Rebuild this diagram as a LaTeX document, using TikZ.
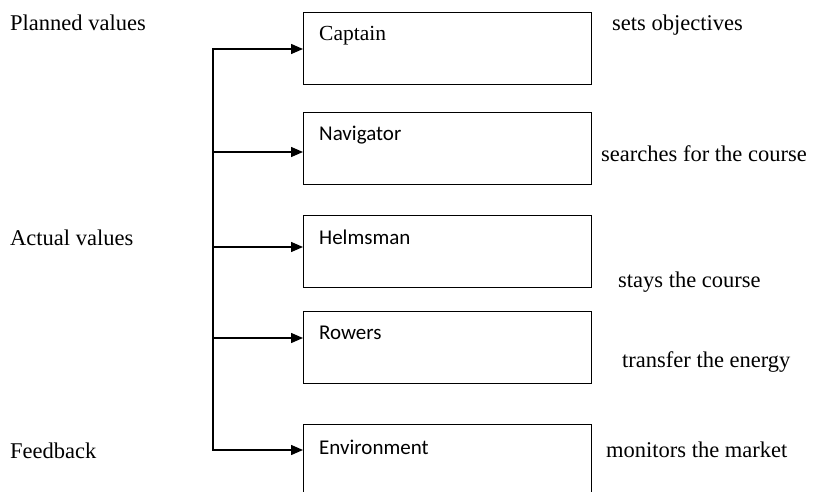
\documentclass[tikz,border=0pt]{standalone}
\usepackage{fontspec}
\setmainfont{Liberation Serif}
\newfontfamily\boxfont{Carlito}
\usetikzlibrary{arrows.meta}

\tikzset{
  rolebox/.style={draw, line width=1.1pt, minimum width=288pt, minimum height=72pt,
    anchor=north west, inner sep=0pt},
  serifnote/.style={font=\fontsize{22.5}{26}\selectfont, anchor=base west, inner sep=0pt},
  rolename/.style={font=\boxfont\fontsize{21}{25}\selectfont, anchor=base west, inner sep=0pt},
  flow/.style={line width=1.4pt, line join=miter},
  tip/.style={-{Triangle[length=12pt,width=10pt]}},
}

\begin{document}
\begin{tikzpicture}[x=1pt,y=-1pt]
  \useasboundingbox (0,0) rectangle (814,492);
  \clip (0,0) rectangle (814,492);

  % role boxes
  \node[rolebox] (cap) at (303,12)  {};
  \node[rolebox] (nav) at (303,112) {};
  \node[rolebox] (hel) at (303,215) {};
  \node[rolebox] (row) at (303,311) {};
  \node[rolebox] (env) at (303,424) {};

  % role names inside the boxes
  \node[serifnote, font=\fontsize{21.5}{25}\selectfont] (tcap) at (319,41) {Captain};
  \node[rolename] (tnav) at (319,141) {Navigator};
  \node[rolename] (thel) at (319,244) {Helmsman};
  \node[rolename] (trow) at (319,339) {Rowers};
  \node[rolename] (tenv) at (319,454) {Environment};

  % tasks on the right
  \node[serifnote] (dcap) at (612,31)  {sets objectives};
  \node[serifnote] (dnav) at (601,161) {searches for the course};
  \node[serifnote] (dhel) at (618,287) {stays the course};
  \node[serifnote] (drow) at (622,367) {transfer the energy};
  \node[serifnote] (denv) at (606,457) {monitors the market};

  % control variables on the left
  \node[serifnote] (plan) at (10,31)  {Planned values};
  \node[serifnote] (act)  at (10,245) {Actual values};
  \node[serifnote] (fb)   at (10,458) {Feedback};

  % branch points on the vertical line
  \coordinate (s1) at (213,49);
  \coordinate (s2) at (213,152);
  \coordinate (s3) at (213,247);
  \coordinate (s4) at (213,338);
  \coordinate (s5) at (213,450);

  % spine with the first and last branch
  \draw[flow, {Triangle[length=12pt,width=10pt]}-{Triangle[length=12pt,width=10pt]}]
    (s1 -| cap.west) -- (s1) -- (s5) -- (s5 -| env.west);
  % middle branches
  \draw[flow, tip] (s2) -- (s2 -| nav.west);
  \draw[flow, tip] (s3) -- (s3 -| hel.west);
  \draw[flow, tip] (s4) -- (s4 -| row.west);
\end{tikzpicture}
\end{document}
